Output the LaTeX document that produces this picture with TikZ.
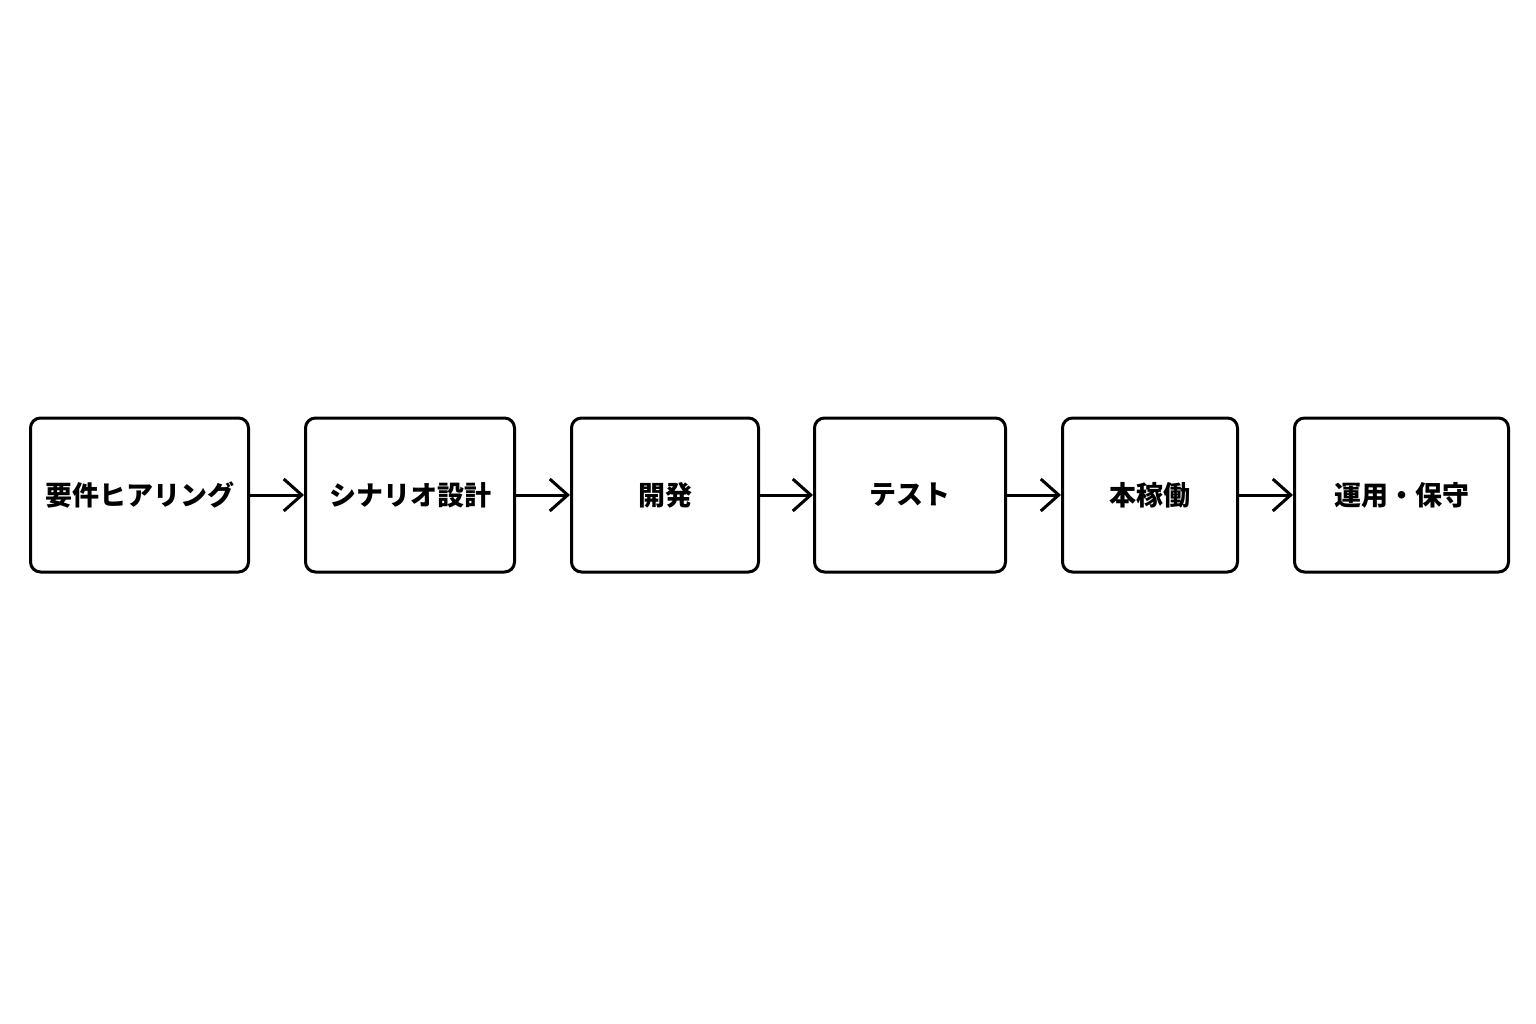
\documentclass[tikz,border=0pt]{standalone}
\usepackage{fontspec}
\newfontfamily\cjk{Noto Sans CJK JP}
\usetikzlibrary{arrows.meta}
\tikzset{
  stepbox/.style={draw=black, line width=3pt, rounded corners=10pt, minimum height=154pt, inner sep=0pt, font=\cjk\bfseries\fontsize{27}{30}\selectfont, anchor=west},
  flow/.style={line width=3pt, -{Straight Barb[length=18pt,width=32pt,line width=3pt]}}
}
\begin{document}
\begin{tikzpicture}[x=1pt,y=-1pt]
\useasboundingbox (0,0) rectangle (1536,1024);
\node[stepbox, minimum width=218pt] (a) at (29,495) {要件ヒアリング};
\node[stepbox, minimum width=209pt] (b) at (304,495) {シナリオ設計};
\node[stepbox, minimum width=187pt] (c) at (570,495) {開発};
\node[stepbox, minimum width=191pt] (d) at (813,495) {テスト};
\node[stepbox, minimum width=175pt] (e) at (1061,495) {本稼働};
\node[stepbox, minimum width=214pt] (f) at (1293,495) {運用・保守};
\draw[flow] (a.east) -- (b.west);
\draw[flow] (b.east) -- (c.west);
\draw[flow] (c.east) -- (d.west);
\draw[flow] (d.east) -- (e.west);
\draw[flow] (e.east) -- (f.west);
\end{tikzpicture}
\end{document}
